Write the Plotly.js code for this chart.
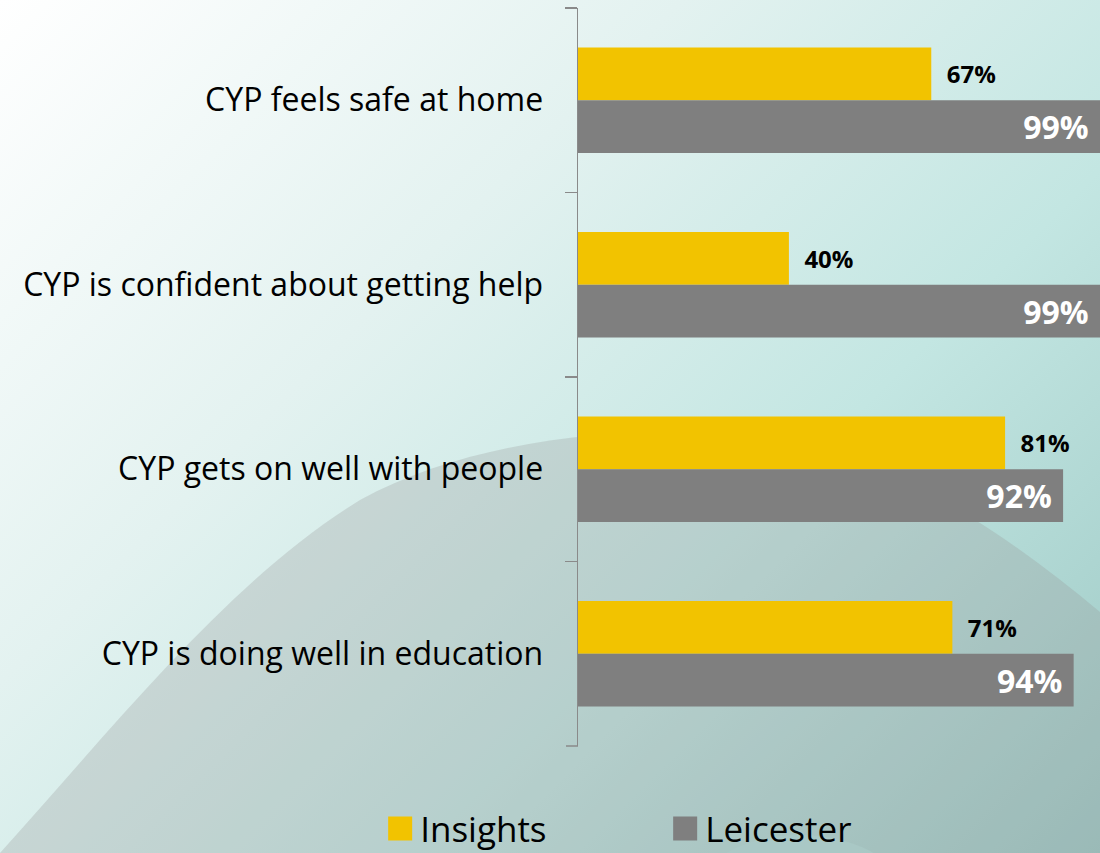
<!DOCTYPE html>
<html>
<head>
<meta charset="utf-8">
<script src="https://cdn.plot.ly/plotly-3.0.1.min.js"></script>
<style>
html,body{margin:0;padding:0;width:1100px;height:853px;overflow:hidden;}
body{
  background-image:
    url("data:image/svg+xml;utf8,<svg xmlns='http://www.w3.org/2000/svg' width='1100' height='853'><ellipse cx='800' cy='905' rx='110' ry='70' fill='rgb(178,222,218)' fill-opacity='0.7'/><path d='M0,853 C120,720 230,580 360,500 C470,440 620,425 740,434 C870,444 990,520 1100,612 L1100,853 Z' fill='rgb(150,150,150)' fill-opacity='0.28'/></svg>"),
    linear-gradient(135deg, #ffffff 0%, #e3f2f0 35%, #c3e6e2 65%, #9cc8c4 100%);
  background-repeat:no-repeat;
}
#chart{width:1100px;height:853px;}
</style>
</head>
<body>
<div id="chart"></div>
<script>
const categories = [
  "CYP feels safe at home",
  "CYP is confident about getting help",
  "CYP gets on well with people",
  "CYP is doing well in education"
];
const insights = [67, 40, 81, 71];
const leicester = [99, 99, 92, 94];
const seriesNames = ["Insights", "Leicester"];

const FONT = "'Open Sans', Lato, sans-serif";
const AXIS_GREY = "#8a8a8a";

const data = [
  {
    type: "bar", orientation: "h", name: seriesNames[0],
    y: categories, x: insights,
    marker: {color: "#F2C300"},
    text: insights.map(v => "  " + v + "%"),
    textposition: "outside",
    textfont: {family: FONT, size: 24, color: "#000000", weight: 700},
    cliponaxis: false,
    hoverinfo: "x+y"
  },
  {
    type: "bar", orientation: "h", name: seriesNames[1],
    y: categories, x: leicester,
    marker: {color: "#7F7F7F"},
    text: leicester.map(v => v + "% "),
    textposition: "inside",
    insidetextanchor: "end",
    textfont: {family: FONT, size: 32, color: "#ffffff", weight: 700},
    hoverinfo: "x+y"
  }
];

const layout = {
  width: 1100, height: 853,
  margin: {l: 578, r: 0, t: 8, b: 107, pad: 0, autoexpand: false},
  paper_bgcolor: "rgba(0,0,0,0)",
  plot_bgcolor: "rgba(0,0,0,0)",
  barmode: "group",
  bargap: 0.427,
  bargroupgap: 0,
  font: {family: FONT, color: "#000000"},
  xaxis: {
    range: [0, 99],
    visible: false,
    showgrid: false, zeroline: false
  },
  yaxis: {
    type: "category",
    autorange: "reversed",
    automargin: false,
    showline: true, linecolor: AXIS_GREY, linewidth: 1.5,
    ticks: "outside", tickson: "boundaries", ticklen: 12, tickcolor: AXIS_GREY, tickwidth: 1.5,
    ticklabelstandoff: 27,
    tickfont: {family: FONT, size: 32, color: "#000000"},
    showgrid: false, zeroline: false
  },
  shapes: [
    {type: "line", xref: "paper", yref: "paper", x0: -12/522, x1: 0, y0: 0, y1: 0,
     line: {color: AXIS_GREY, width: 1.5}}
  ],
  showlegend: true,
  legend: {
    orientation: "h",
    x: -0.379, xanchor: "left",
    y: -0.112, yanchor: "middle",
    font: {family: FONT, size: 35, color: "#000000"},
    entrywidth: 240,
    traceorder: "normal",
    bgcolor: "rgba(0,0,0,0)"
  }
};

Plotly.newPlot("chart", data, layout, {displayModeBar: false, staticPlot: true}).then(function(gd){
  gd.querySelectorAll(".legend .legendpoints path").forEach(function(p){
    p.setAttribute("d", "M12,12H-12V-12H12Z");
  });
});
</script>
</body>
</html>
